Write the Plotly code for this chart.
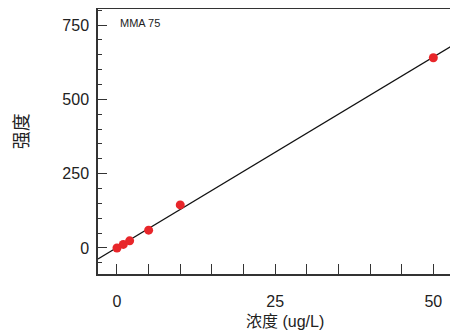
import numpy as np
import plotly.graph_objects as go

conc = [0, 1, 2, 5, 10, 50]
intensity = [0, 12, 24, 60, 145, 640]
label = "MMA 75"
x_title = "浓度 (ug/L)"
y_title = "强度"

slope, intercept = np.polyfit(conc, intensity, 1)
x_line = [-3, 54]
y_line = [intercept + slope * v for v in x_line]

FONT = "Liberation Sans, Arial, Noto Sans CJK SC, sans-serif"

fig = go.Figure()
fig.add_trace(go.Scatter(x=x_line, y=y_line, mode="lines",
                         line=dict(color="#111111", width=1.2), showlegend=False))
fig.add_trace(go.Scatter(x=conc, y=intensity, mode="markers",
                         marker=dict(color="#e8262a", size=9), showlegend=False))

fig.update_layout(
    width=450, height=323,
    margin=dict(l=90, r=0, t=1, b=57),
    paper_bgcolor="white", plot_bgcolor="white",
    font=dict(family=FONT, size=16, color="#222222"),
    xaxis=dict(range=[-3, 53.9], tickvals=[0, 25, 50], ticks="inside", ticklen=10,
               tickwidth=1.2, tickcolor="#333333",
               minor=dict(dtick=5, ticks="inside", ticklen=10, tickwidth=1.2, tickcolor="#333333"),
               showgrid=False, zeroline=False, showline=True, linecolor="#333333",
               linewidth=1.5, mirror=True, ticklabelstandoff=12),
    yaxis=dict(range=[-87.5, 804], tickvals=[0, 250, 500, 750], ticks="inside", ticklen=9,
               tickwidth=1.2, tickcolor="#333333",
               minor=dict(dtick=50, ticks="inside", ticklen=4, tickwidth=1.2, tickcolor="#333333"),
               showgrid=False, zeroline=False, showline=True, linecolor="#333333",
               linewidth=1.5, ticklabelstandoff=4),
    annotations=[
        dict(text=label, x=0.056, y=0.947, xref="paper", yref="paper",
             xanchor="left", yanchor="middle", showarrow=False,
             font=dict(size=11, family=FONT)),
        dict(text=x_title, x=0.519, y=-0.18, xref="paper", yref="paper",
             xanchor="center", yanchor="middle", showarrow=False,
             font=dict(size=16, family=FONT)),
        dict(text=y_title, x=-0.21, y=0.54, xref="paper", yref="paper",
             xanchor="center", yanchor="middle", showarrow=False, textangle=-90,
             font=dict(size=18, family=FONT)),
    ],
)

fig.write_html("out.html")
